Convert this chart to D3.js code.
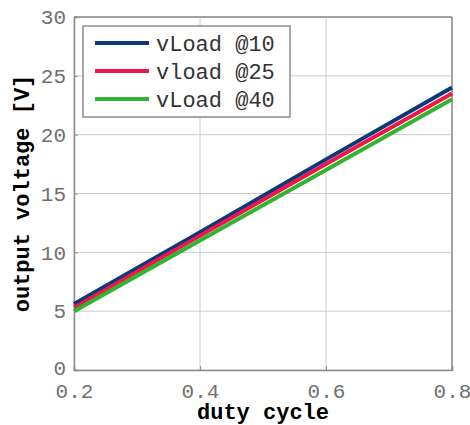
<!DOCTYPE html>
<html>
<head>
<meta charset="utf-8">
<script src="https://cdn.jsdelivr.net/npm/d3@7"></script>
<style>
body { margin: 0; background: #fff; }
text { font-family: "Liberation Mono", "DejaVu Sans Mono", monospace; }
</style>
</head>
<body>
<svg id="chart" width="470" height="425"></svg>
<script>
const duty = [0.2, 0.4, 0.6, 0.8];
const seriesNames = ["vLoad @10", "vload @25", "vLoad @40"];
const vLoad10 = [5.6, 11.7, 17.9, 24.0];
const vLoad25 = [5.3, 11.4, 17.5, 23.5];
const vLoad40 = [5.0, 11.0, 17.0, 23.0];
const colors = ["#0b3a78", "#f0164a", "#2fb52f"];
const xTicks = [0.2, 0.4, 0.6, 0.8];
const yTicks = [0, 5, 10, 15, 20, 25, 30];

const series = [vLoad10, vLoad25, vLoad40].map((vals, i) => ({
    name: seriesNames[i],
    color: colors[i],
    points: vals.map((v, j) => ({ x: duty[j], y: v }))
}));

const svg = d3.select("#chart");
const margin = { left: 74, right: 18, top: 17, bottom: 55 };
const width = 470, height = 425;

const x = d3.scaleLinear().domain([0.2, 0.8]).range([margin.left, width - margin.right]);
const y = d3.scaleLinear().domain([0, 30]).range([height - margin.bottom, margin.top]);

// grid
svg.append("g")
    .selectAll("line")
    .data(xTicks)
    .join("line")
    .attr("x1", d => x(d)).attr("x2", d => x(d))
    .attr("y1", y(0)).attr("y2", y(30))
    .attr("stroke", "#cccccc").attr("stroke-width", 1);
svg.append("g")
    .selectAll("line")
    .data(yTicks)
    .join("line")
    .attr("x1", x(0.2)).attr("x2", x(0.8))
    .attr("y1", d => y(d)).attr("y2", d => y(d))
    .attr("stroke", "#cccccc").attr("stroke-width", 1);

// axes
const xAxis = svg.append("g")
    .attr("transform", `translate(0,${y(0)})`)
    .call(d3.axisBottom(x).tickValues(xTicks).tickSize(-4).tickPadding(13).tickFormat(d3.format(".1f")));
const yAxis = svg.append("g")
    .attr("transform", `translate(${x(0.2)},0)`)
    .call(d3.axisLeft(y).tickValues(yTicks).tickSize(-4).tickPadding(8));
[xAxis, yAxis].forEach(a => {
    a.select(".domain").attr("stroke", "#8c8c8c").attr("stroke-width", 1.5);
    a.selectAll(".tick line").attr("stroke", "#8c8c8c");
    a.selectAll(".tick text").attr("fill", "#707070").attr("font-size", 21)
        .attr("font-family", "Liberation Mono, monospace");
});
yAxis.selectAll(".tick text").filter(d => d === 0).attr("dy", "0.2em");
// top and right frame
svg.append("line").attr("x1", x(0.2)).attr("x2", x(0.8)).attr("y1", y(30)).attr("y2", y(30))
    .attr("stroke", "#8c8c8c").attr("stroke-width", 1.5);
svg.append("line").attr("x1", x(0.8)).attr("x2", x(0.8)).attr("y1", y(30)).attr("y2", y(0))
    .attr("stroke", "#8c8c8c").attr("stroke-width", 1.5);

// lines
const line = d3.line().x(d => x(d.x)).y(d => y(d.y));
svg.append("g")
    .selectAll("path")
    .data(series)
    .join("path")
    .attr("fill", "none")
    .attr("stroke", d => d.color)
    .attr("stroke-width", 4)
    .attr("d", d => line(d.points));

// axis labels
svg.append("text")
    .attr("x", (x(0.2) + x(0.8)) / 2).attr("y", 419)
    .attr("text-anchor", "middle")
    .attr("font-size", 22).attr("font-weight", "bold")
    .text("duty cycle");
svg.append("text")
    .attr("transform", `translate(29,${(y(0) + y(30)) / 2}) rotate(-90)`)
    .attr("text-anchor", "middle")
    .attr("font-size", 22).attr("font-weight", "bold")
    .text("output voltage [V]");

// legend
const legend = svg.append("g");
legend.append("rect")
    .attr("x", 83).attr("y", 26).attr("width", 207).attr("height", 91)
    .attr("fill", "#fff").attr("stroke", "#8c8c8c").attr("stroke-width", 1.5);
const rows = legend.selectAll("g")
    .data(series)
    .join("g")
    .attr("transform", (d, i) => `translate(0,${43 + i * 28})`);
rows.append("line")
    .attr("x1", 95).attr("x2", 149)
    .attr("stroke", d => d.color).attr("stroke-width", 4);
rows.append("text")
    .attr("x", 156).attr("dy", "0.35em")
    .attr("font-size", 22).attr("fill", "#333")
    .text(d => d.name);
</script>
</body>
</html>
